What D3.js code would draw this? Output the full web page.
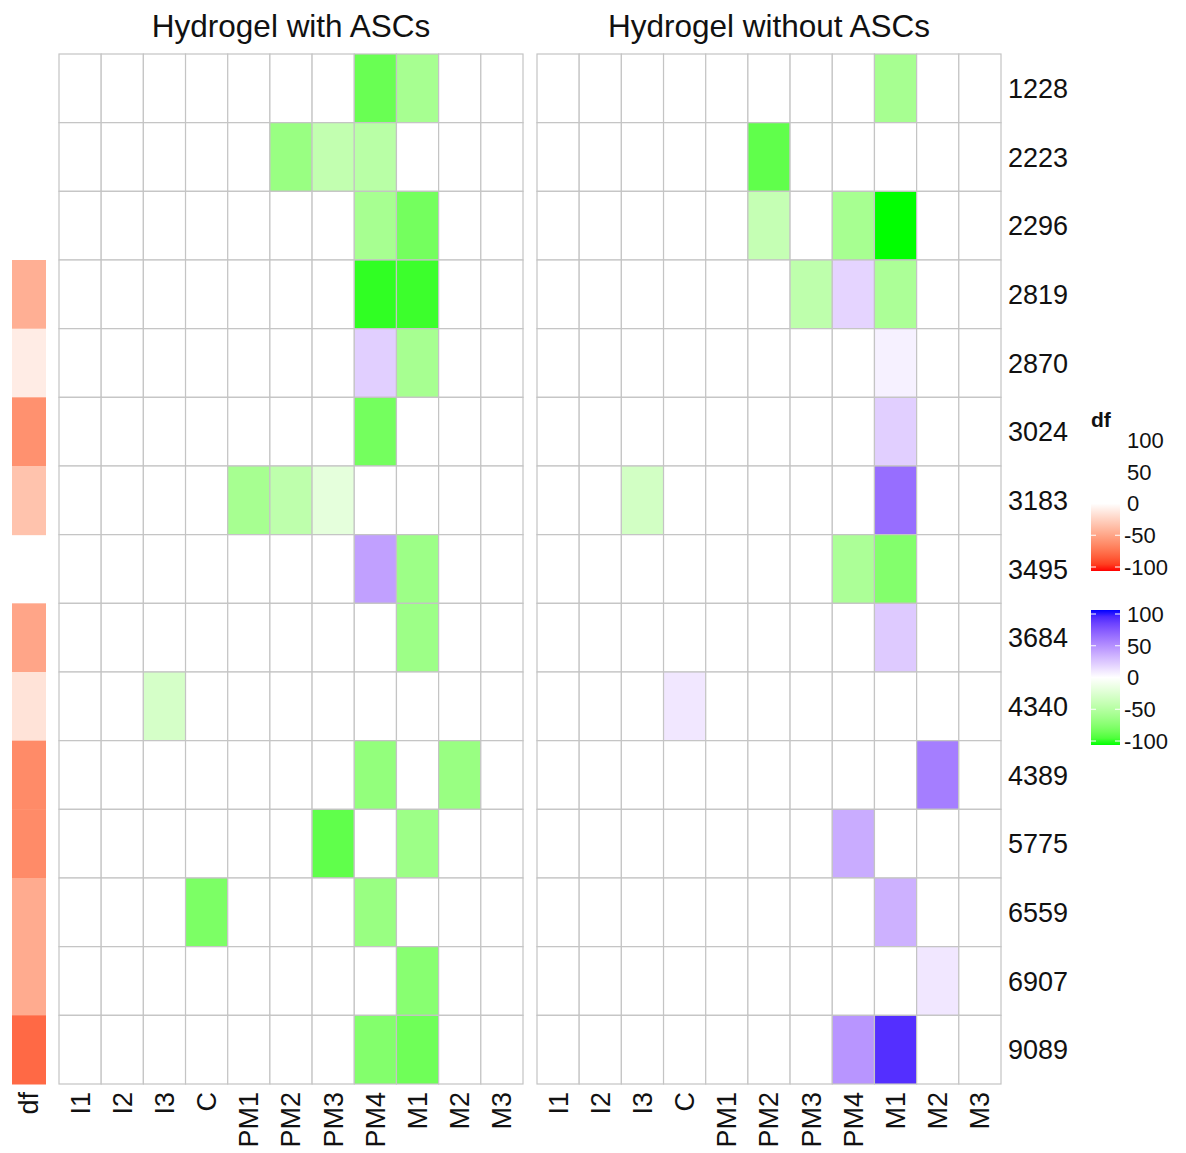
<!DOCTYPE html>
<html>
<head>
<meta charset="utf-8">
<script src="https://cdn.jsdelivr.net/npm/d3@7"></script>
<style>
  body { margin: 0; background: #fff; }
  text { font-family: "Liberation Sans", Arial, sans-serif; fill: #111; }
</style>
</head>
<body>
<script>
// row and column names
var genes = ["1228","2223","2296","2819","2870","3024","3183","3495","3684","4340","4389","5775","6559","6907","9089"];
var stages = ["I1","I2","I3","C","PM1","PM2","PM3","PM4","M1","M2","M3"];

// df annotation (null = no value)
var df = [null, null, null, -42, -10, -57, -32, null, -47, -15, -60, -60, -44, -44, -75];

// values per gene, columns in the order of `stages`
var withASCs = [
  [0,0,0,0,0,0,0,-82,-55,0,0],
  [0,0,0,0,0,-62,-40,-45,0,0,0],
  [0,0,0,0,0,0,0,-55,-78,0,0],
  [0,0,0,0,0,0,0,-96,-94,0,0],
  [0,0,0,0,0,0,0,20,-55,0,0],
  [0,0,0,0,0,0,0,-78,0,0,0],
  [0,0,0,0,-55,-42,-18,0,0,0,0],
  [0,0,0,0,0,0,0,40,-60,0,0],
  [0,0,0,0,0,0,0,0,-60,0,0],
  [0,0,-28,0,0,0,0,0,0,0,0],
  [0,0,0,0,0,0,0,-65,0,-62,0],
  [0,0,0,0,0,0,-85,0,-60,0,0],
  [0,0,0,-75,0,0,0,-62,0,0,0],
  [0,0,0,0,0,0,0,0,-70,0,0],
  [0,0,0,0,0,0,0,-72,-80,0,0]
];
var withoutASCs = [
  [0,0,0,0,0,0,0,0,-55,0,0],
  [0,0,0,0,0,-85,0,0,0,0,0],
  [0,0,0,0,0,-38,0,-55,-100,0,0],
  [0,0,0,0,0,0,-42,18,-52,0,0],
  [0,0,0,0,0,0,0,0,6,0,0],
  [0,0,0,0,0,0,0,0,20,0,0],
  [0,0,-30,0,0,0,0,0,62,0,0],
  [0,0,0,0,0,0,0,-52,-72,0,0],
  [0,0,0,0,0,0,0,0,22,0,0],
  [0,0,0,10,0,0,0,0,0,0,0],
  [0,0,0,0,0,0,0,0,0,55,0],
  [0,0,0,0,0,0,0,35,0,0,0],
  [0,0,0,0,0,0,0,0,33,0,0],
  [0,0,0,0,0,0,0,0,0,10,0],
  [0,0,0,0,0,0,0,45,88,0,0]
];
var legendTicks = [100, 50, 0, -50, -100];

var W = 1186, H = 1153;
var gridTop = 54, gridBottom = 1084;
var gridCol = "#c4c4c4";
var fs = 27;

var svg = d3.select("body").append("svg")
    .attr("width", W)
    .attr("height", H);

// colour scales (Lab interpolation like ComplexHeatmap)
var color = d3.scaleLinear()
    .domain([-100, 0, 100])
    .range(["#00ff00", "#ffffff", "#0000ff"])
    .interpolate(d3.interpolateLab)
    .clamp(true);
var dfColor = d3.scaleLinear()
    .domain([-100, 0, 100])
    .range(["#ff0000", "#ffffff", "#ffffff"])
    .interpolate(d3.interpolateLab)
    .clamp(true);

var y = d3.scaleBand().domain(genes).range([gridTop, gridBottom]);

// df annotation column
svg.append("g").selectAll("rect")
    .data(genes.map(function(g, i) { return {gene: g, v: df[i]}; })
      .filter(function(d) { return d.v !== null; }))
  .enter().append("rect")
    .attr("x", 12)
    .attr("width", 34)
    .attr("y", function(d) { return y(d.gene); })
    .attr("height", y.bandwidth() + 0.5)
    .attr("fill", function(d) { return dfColor(d.v); });

svg.append("text")
    .attr("transform", "translate(29," + (gridBottom + 8) + ") rotate(-90)")
    .attr("dy", "0.35em")
    .attr("text-anchor", "end")
    .style("font-size", fs + "px")
    .text("df");

// one heatmap panel
function panel(values, x0, x1, title) {
  var x = d3.scaleBand().domain(stages).range([x0, x1]);
  var g = svg.append("g");

  var cells = [];
  values.forEach(function(row, i) {
    row.forEach(function(v, j) {
      cells.push({gene: genes[i], stage: stages[j], v: v});
    });
  });

  g.selectAll("rect")
      .data(cells)
    .enter().append("rect")
      .attr("x", function(d) { return x(d.stage); })
      .attr("y", function(d) { return y(d.gene); })
      .attr("width", x.bandwidth())
      .attr("height", y.bandwidth())
      .attr("fill", function(d) { return color(d.v); })
      .attr("stroke", gridCol)
      .attr("stroke-width", 1.2);

  // column labels
  g.selectAll(".col")
      .data(stages)
    .enter().append("text")
      .attr("transform", function(d) {
        return "translate(" + (x(d) + x.bandwidth() / 2) + "," + (gridBottom + 8) + ") rotate(-90)";
      })
      .attr("dy", "0.35em")
      .attr("text-anchor", "end")
      .style("font-size", fs + "px")
      .text(function(d) { return d; });

  g.append("text")
      .attr("x", (x0 + x1) / 2)
      .attr("y", 37)
      .attr("text-anchor", "middle")
      .style("font-size", "31.5px")
      .text(title);
}

panel(withASCs, 59, 523, "Hydrogel with ASCs");
panel(withoutASCs, 537, 1001, "Hydrogel without ASCs");

// row labels
svg.append("g").selectAll("text")
    .data(genes)
  .enter().append("text")
    .attr("x", 1008)
    .attr("y", function(d) { return y(d) + y.bandwidth() / 2; })
    .attr("dy", "0.36em")
    .style("font-size", fs + "px")
    .text(function(d) { return d; });

// legends
svg.append("text")
    .attr("x", 1091)
    .attr("y", 427)
    .style("font-size", "21px")
    .style("font-weight", "bold")
    .text("df");

function legend(scale, yTop, yBot, id) {
  var ly = d3.scaleLinear().domain([100, -100]).range([yTop, yBot]);
  var grad = svg.append("defs").append("linearGradient")
      .attr("id", id)
      .attr("x1", 0).attr("y1", 0).attr("x2", 0).attr("y2", 1);
  d3.range(0, 21).forEach(function(k) {
    var v = 100 - k * 10;
    grad.append("stop")
        .attr("offset", (k / 20 * 100) + "%")
        .attr("stop-color", scale(v));
  });
  svg.append("rect")
      .attr("x", 1091)
      .attr("y", ly(100) - 4)
      .attr("width", 29)
      .attr("height", ly(-100) - ly(100) + 8)
      .attr("fill", "url(#" + id + ")");
  legendTicks.forEach(function(t) {
    svg.append("line")
        .attr("x1", 1091).attr("x2", 1096)
        .attr("y1", ly(t)).attr("y2", ly(t))
        .attr("stroke", "#fff").attr("stroke-width", 1);
    svg.append("line")
        .attr("x1", 1115).attr("x2", 1120)
        .attr("y1", ly(t)).attr("y2", ly(t))
        .attr("stroke", "#fff").attr("stroke-width", 1);
  });
  svg.append("g").selectAll("text")
      .data(legendTicks)
    .enter().append("text")
      .attr("x", function(d) { return d < 0 ? 1124 : 1127; })
      .attr("y", function(d) { return ly(d); })
      .attr("dy", "0.36em")
      .style("font-size", "22px")
      .text(function(d) { return d; });
}

legend(dfColor, 440, 567, "gradDf");
legend(color, 614, 741, "gradMain");
</script>
</body>
</html>
